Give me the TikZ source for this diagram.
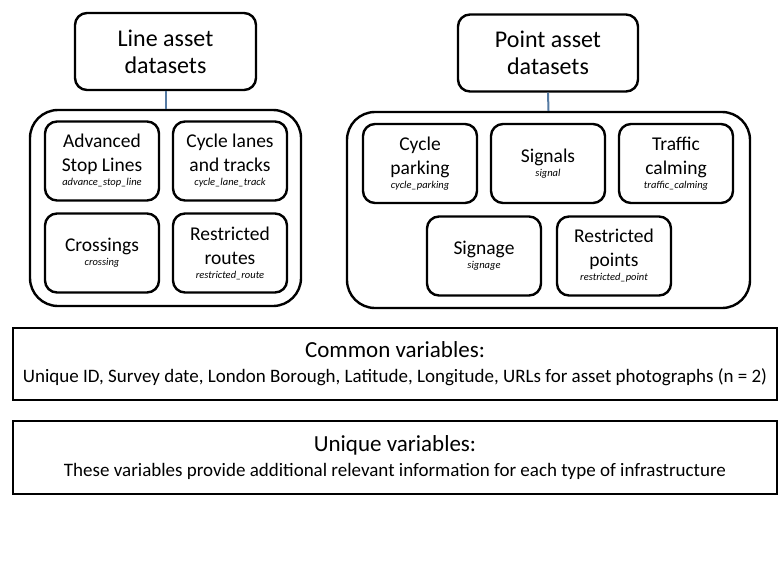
\documentclass[tikz,border=0pt]{standalone}
\usepackage{fontspec}
\setmainfont{Carlito}
\definecolor{linkblue}{RGB}{84,122,163}
\newcommand{\code}[1]{\\[-10pt]{\fontsize{10.5}{12}\selectfont\itshape #1}}

\begin{document}
\begin{tikzpicture}
    [
      x=1pt, y=-1pt,
      line width=2.4pt,
      head/.style=
      {
        draw,
        rounded corners=12pt,
        align=center,
        inner sep=0pt,
        minimum width=181pt,
        minimum height=77pt,
        font=\fontsize{24}{27}\selectfont
      },
      group/.style=
      {
        draw,
        rounded corners=28pt,
        inner sep=0pt,
        minimum height=196pt
      },
      asset/.style=
      {
        draw,
        rounded corners=12pt,
        align=center,
        inner sep=0pt,
        minimum width=114pt,
        minimum height=79pt,
        font=\fontsize{19.5}{24}\selectfont
      },
      vars/.style=
      {
        draw,
        line width=2.8pt,
        align=center,
        inner sep=0pt,
        minimum width=764pt,
        minimum height=72pt,
        font=\fontsize{19}{25}\selectfont
      },
      link/.style=
      {
        draw=linkblue,
        line width=2pt
      }
    ]
    \useasboundingbox (0,0) rectangle (782,587);

    % line assets
    \node[head](LineHead) at (165.5,51.5) {Line asset\\datasets};
    \node[group, minimum width=271pt](LineGroup) at (165.5,208) {};
    \node[asset](StopLine) at (102,161)
      {Advanced\\Stop Lines\code{advance\_stop\_line}};
    \node[asset](CycleLane) at (230,161)
      {Cycle lanes\\and tracks\code{cycle\_lane\_track}};
    \node[asset](Crossing) at (102,253)
      {Crossings\code{crossing}};
    \node[asset](RestrictedRoute) at (230,253)
      {Restricted\\routes\code{restricted\_route}};
    \draw[link] (LineHead.south) -- (LineGroup.north);

    % point assets
    \node[head, minimum width=180pt](PointHead) at (548,53) {Point asset\\datasets};
    \node[group, minimum width=403pt](PointGroup) at (548.5,210) {};
    \node[asset](CycleParking) at (420,163.5)
      {Cycle\\parking\code{cycle\_parking}};
    \node[asset](Signal) at (548,163.5)
      {Signals\code{signal}};
    \node[asset](TrafficCalming) at (676,163.5)
      {Traffic\\calming\code{traffic\_calming}};
    \node[asset](Signage) at (484,256)
      {Signage\code{signage}};
    \node[asset](RestrictedPoint) at (614,256)
      {Restricted\\points\code{restricted\_point}};
    \draw[link] (PointHead.south) -- (PointGroup.north);

    % variables
    \node[vars](Common) at (395,364)
      {{\fontsize{23}{25}\selectfont Common variables:}\\
       Unique ID, Survey date, London Borough, Latitude, Longitude, URLs for asset photographs (n = 2)};
    \node[vars, minimum height=73pt](Unique) at (395,457.5)
      {{\fontsize{23}{25}\selectfont Unique variables:}\\
       These variables provide additional relevant information for each type of infrastructure};
  \end{tikzpicture}
\end{document}
